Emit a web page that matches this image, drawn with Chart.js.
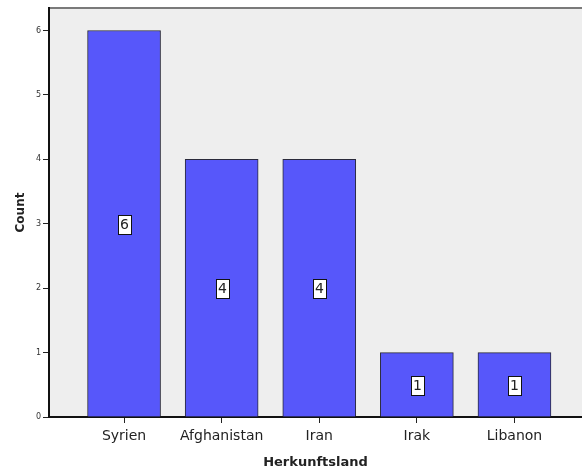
<!DOCTYPE html>
<html>
<head>
<meta charset="utf-8">
<script src="https://cdn.jsdelivr.net/npm/chart.js@4/dist/chart.umd.min.js"></script>
<style>
html,body{margin:0;padding:0;background:#fff;}
#wrap{width:582px;height:470px;position:relative;}
</style>
</head>
<body>
<div id="wrap"><canvas id="c" width="582" height="470"></canvas></div>
<script>
const categories = ["Syrien", "Afghanistan", "Iran", "Irak", "Libanon"];
const counts = [6, 4, 4, 1, 1];
const yTicks = [0, 1, 2, 3, 4, 5, 6];
const xTitle = "Herkunftsland";
const yTitle = "Count";

const bgPlugin = {
  id: 'bg',
  beforeDraw(chart) {
    const {ctx, chartArea: a} = chart;
    ctx.save();
    ctx.fillStyle = '#EEEEEE';
    ctx.fillRect(a.left, a.top, a.right - a.left, a.bottom - a.top);
    ctx.strokeStyle = '#7a7a7a';
    ctx.lineWidth = 2;
    ctx.beginPath();
    ctx.moveTo(a.left, a.top);
    ctx.lineTo(a.right, a.top);
    ctx.stroke();
    ctx.restore();
  }
};

const labelPlugin = {
  id: 'vlabels',
  afterDatasetsDraw(chart) {
    const {ctx} = chart;
    const xs = chart.scales.x, ys = chart.scales.y;
    ctx.save();
    ctx.font = '14px "DejaVu Sans", sans-serif';
    ctx.textAlign = 'center';
    ctx.textBaseline = 'middle';
    counts.forEach((v, i) => {
      const cx = Math.round(xs.getPixelForValue(i));
      const cy = Math.round(ys.getPixelForValue(v / 2));
      const t = String(v);
      const w = Math.round(ctx.measureText(t).width + 4);
      const h = 19;
      const x0 = Math.round(cx - w / 2), y0 = Math.round(cy - h / 2);
      ctx.fillStyle = '#ffffff';
      ctx.fillRect(x0, y0, w, h);
      ctx.strokeStyle = '#111';
      ctx.lineWidth = 1;
      ctx.strokeRect(x0 + 0.5, y0 + 0.5, w, h);
      ctx.fillStyle = '#222';
      ctx.fillText(t, cx + 0.5, cy + 1.5);
    });
    ctx.restore();
  }
};

new Chart(document.getElementById('c'), {
  type: 'bar',
  data: {
    datasets: [{
      data: counts.map((v, i) => ({x: i, y: v})),
      backgroundColor: '#5757FA',
      borderColor: '#2a2a3a',
      borderWidth: 1,
      borderSkipped: 'bottom',
      barThickness: 73
    }]
  },
  options: {
    responsive: false,
    animation: false,
    layout: {padding: {top: 8, right: 0, left: 0, bottom: 0}},
    plugins: {legend: {display: false}, tooltip: {enabled: false}},
    scales: {
      x: {
        type: 'linear',
        offset: false,
        min: -0.769,
        max: 4.692,
        afterBuildTicks(s) { s.ticks = categories.map((c, i) => ({value: i})); },
        afterFit(s) { s.height = 53; },
        ticks: {
          callback: (v) => categories[v],
          font: {size: 14, family: '"DejaVu Sans", sans-serif'},
          color: '#222',
          padding: 5,
          maxRotation: 0,
          autoSkip: false
        },
        grid: {offset: false, drawOnChartArea: false, drawTicks: true, tickLength: 6, color: '#222'},
        border: {display: true, color: '#111', width: 2},
        title: {display: true, text: xTitle, color: '#222',
          font: {size: 13, weight: 'bold', family: '"DejaVu Sans", sans-serif'}, padding: {top: 2, bottom: 0}}
      },
      y: {
        min: 0,
        max: 6.35,
        afterBuildTicks(s) { s.ticks = yTicks.map(v => ({value: v})); },
        afterFit(s) { s.width = 49; },
        ticks: {
          font: {size: 8, family: '"DejaVu Sans", sans-serif'},
          color: '#333',
          padding: 2
        },
        grid: {drawOnChartArea: false, drawTicks: true, tickLength: 6, color: '#222'},
        border: {display: true, color: '#111', width: 2},
        title: {display: true, text: yTitle, color: '#222',
          font: {size: 12, weight: 'bold', family: '"DejaVu Sans", sans-serif'}, padding: {top: 14, bottom: 0}}
      }
    }
  },
  plugins: [bgPlugin, labelPlugin]
});
</script>
</body>
</html>
